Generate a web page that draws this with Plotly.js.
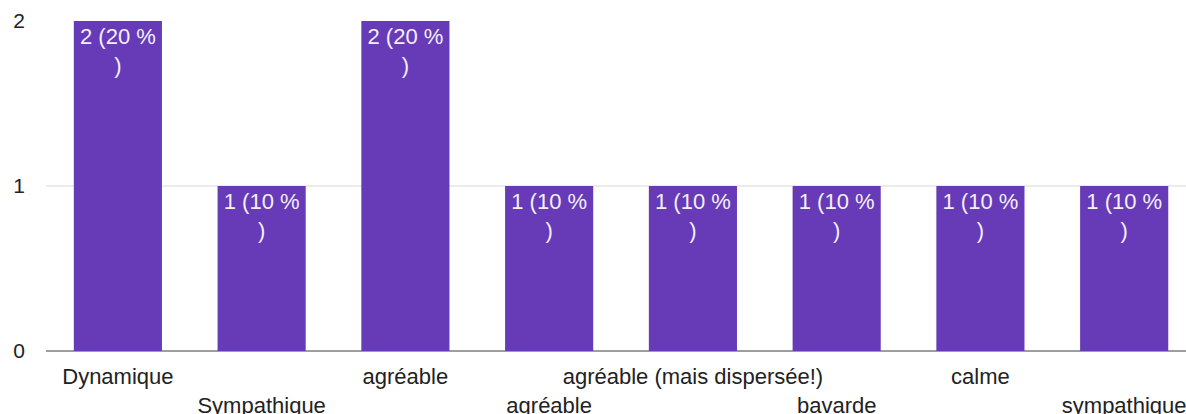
<!DOCTYPE html>
<html>
<head>
<meta charset="utf-8">
<script src="https://cdn.plot.ly/plotly-3.0.1.min.js"></script>
<style>
html,body{margin:0;padding:0;background:#fff;}
#chart{width:1186px;height:414px;}
</style>
</head>
<body>
<div id="chart"></div>
<script>
const categories = ["Dynamique", "Sympathique", "agréable", "agréable", "agréable (mais dispersée!)", "bavarde", "calme", "sympathique"];
const counts = [2, 1, 2, 1, 1, 1, 1, 1];
const percents = [20, 10, 20, 10, 10, 10, 10, 10];
const yTicks = [0, 1, 2];

const idx = categories.map((c, i) => i);
const barText = counts.map((v, i) => v + " (" + percents[i] + " %<br>)");
const tickText = categories.map((c, i) => (i % 2 === 1 ? "<br>" + c : c));

const trace = {
  type: "bar",
  x: idx,
  y: counts,
  marker: {color: "#673ab7"},
  text: barText,
  textposition: "inside",
  insidetextanchor: "end",
  textangle: 0,
  textfont: {family: "Liberation Sans, Arial, sans-serif", size: 22, color: "#f4f0fb"},
  hoverinfo: "none",
  cliponaxis: false
};

const layout = {
  width: 1186,
  height: 414,
  margin: {l: 46, r: 0, t: 21, b: 63, pad: 0},
  paper_bgcolor: "#ffffff",
  plot_bgcolor: "#ffffff",
  showlegend: false,
  bargap: 0.387,
  font: {family: "Liberation Sans, Arial, sans-serif", size: 21, color: "#222222"},
  xaxis: {
    type: "linear",
    range: [-0.5, 7.43],
    tickvals: idx,
    ticktext: tickText,
    tickangle: 0,
    ticks: "",
    showgrid: false,
    zeroline: false,
    showline: false,
    ticklabelstandoff: 10,
    ticklabeloverflow: "allow",
    tickfont: {size: 22, color: "#222222"},
    fixedrange: true
  },
  yaxis: {
    range: [0, 2],
    tickvals: yTicks,
    ticktext: yTicks.map(String),
    ticks: "",
    showgrid: true,
    gridcolor: "#ebebeb",
    gridwidth: 1.5,
    zeroline: true,
    zerolinecolor: "#9e9e9e",
    zerolinewidth: 2,
    showline: false,
    ticklabelstandoff: 20,
    tickfont: {size: 21, color: "#222222"},
    fixedrange: true
  }
};

Plotly.newPlot("chart", [trace], layout, {displayModeBar: false, staticPlot: true});
</script>
</body>
</html>
